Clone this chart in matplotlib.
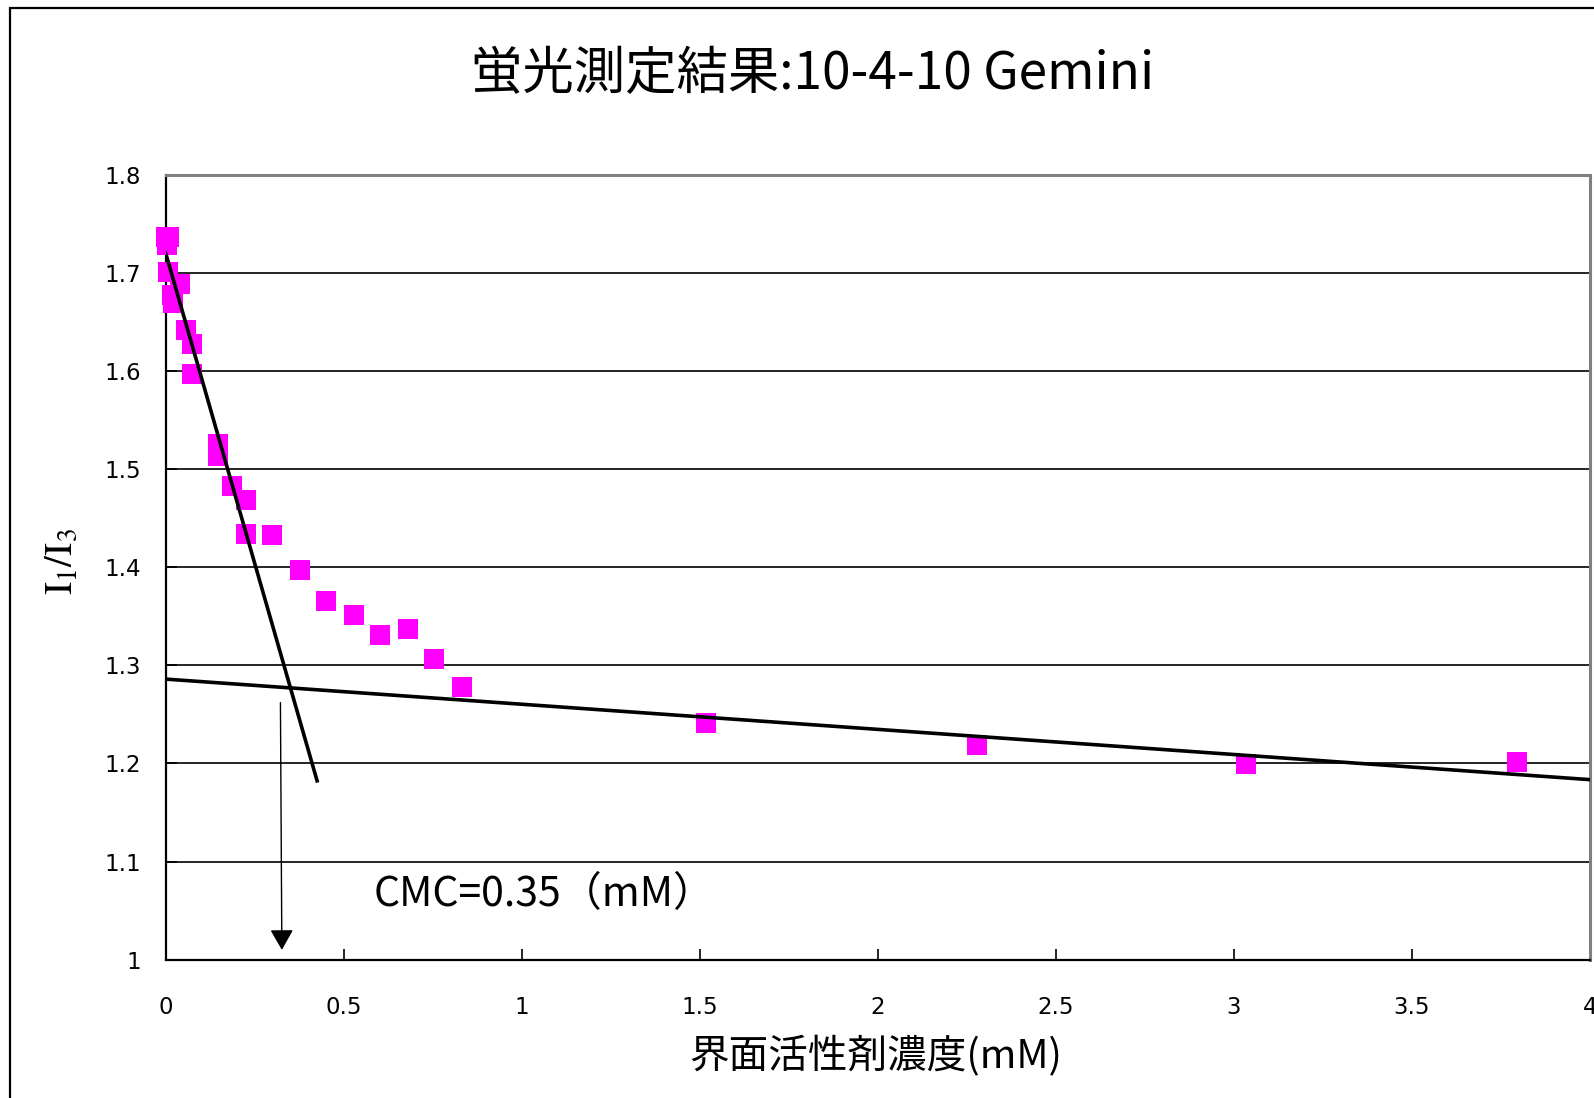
import matplotlib
matplotlib.use("Agg")
import matplotlib.pyplot as plt
from matplotlib.patches import Rectangle

plt.rcParams['font.family'] = ['Noto Sans CJK JP', 'DejaVu Sans']
plt.rcParams['mathtext.fontset'] = 'stix'

# 測定データ (界面活性剤濃度 mM, I1/I3)
conc = [0.0, 0.008, 0.003, 0.007, 0.040, 0.017, 0.021, 0.056, 0.073, 0.073,
        0.146, 0.146, 0.185, 0.225, 0.225, 0.299, 0.378, 0.451, 0.530, 0.603,
        0.681, 0.754, 0.833, 1.516, 2.278, 3.035, 3.796]
ratio = [1.737, 1.737, 1.729, 1.701, 1.689, 1.678, 1.669, 1.642, 1.628, 1.597,
         1.526, 1.513, 1.483, 1.469, 1.434, 1.433, 1.397, 1.366, 1.351, 1.331,
         1.337, 1.307, 1.278, 1.2415, 1.219, 1.199, 1.202]

# 近似直線 (端点)
steep_x = [0.0, 0.425]
steep_y = [1.720, 1.1823]
flat_x = [0.0, 4.0]
flat_y = [1.286, 1.1835]

cmc_text = "CMC=0.35（mM）"
xticks = [0, 0.5, 1, 1.5, 2, 2.5, 3, 3.5, 4]
xtick_labels = ["0", "0.5", "1", "1.5", "2", "2.5", "3", "3.5", "4"]
yticks = [1.0, 1.1, 1.2, 1.3, 1.4, 1.5, 1.6, 1.7, 1.8]
ytick_labels = ["1", "1.1", "1.2", "1.3", "1.4", "1.5", "1.6", "1.7", "1.8"]

fig = plt.figure(figsize=(15.94, 10.98), dpi=100)
ax = fig.add_axes([0.104, 0.126, 0.8935, 0.7147])

# 外枠
fig.patches.append(Rectangle((10 / 1594, -0.2), 1.2, 1.2 - 8 / 1098,
                             transform=fig.transFigure, fill=False,
                             edgecolor='black', linewidth=1.6))

ax.set_xlim(0, 4)
ax.set_ylim(1.0, 1.8)
ax.set_xticks(xticks)
ax.set_xticklabels(xtick_labels, fontfamily='DejaVu Sans')
ax.set_yticks(yticks)
ax.set_yticklabels(ytick_labels, fontfamily='DejaVu Sans')
ax.tick_params(axis='both', direction='in', length=8, width=1.2, labelsize=16.5)
ax.tick_params(axis='x', pad=26)
ax.tick_params(axis='y', pad=18)

ax.grid(axis='y', color='black', linewidth=1.2)
ax.set_axisbelow(True)

for s in ['left', 'bottom']:
    ax.spines[s].set_color('black')
    ax.spines[s].set_linewidth(1.6)
for s in ['top', 'right']:
    ax.spines[s].set_color('#808080')
    ax.spines[s].set_linewidth(2.2)

ax.plot(conc, ratio, linestyle='none', marker='s', markersize=15,
        color='#FF00FF', markeredgewidth=0, zorder=3, clip_on=False)
ax.plot(steep_x, steep_y, color='black', linewidth=2.6, zorder=4)
ax.plot(flat_x, flat_y, color='black', linewidth=2.6, zorder=4)

ax.annotate('', xy=(0.326, 1.010), xytext=(0.322, 1.262),
            arrowprops=dict(arrowstyle='-|>,head_length=0.35,head_width=0.2',
                            color='black', lw=1, mutation_scale=36,
                            shrinkA=0, shrinkB=0))
ax.text(0.585, 1.066, cmc_text, fontsize=29.5, va='center', ha='left')

fig.text(813 / 1594, 1 - 74 / 1098, "蛍光測定結果:10-4-10 Gemini",
         fontsize=37, ha='center', va='center')
fig.text(876 / 1594, 1 - 1057 / 1098, "界面活性剤濃度(mM)",
         fontsize=28.5, ha='center', va='center')
fig.text(61 / 1594, 1 - 562 / 1098, r'$\mathrm{I}_1/\mathrm{I}_3$',
         fontsize=28, rotation=90, ha='center', va='center')

fig.savefig('out.png', dpi=100)
